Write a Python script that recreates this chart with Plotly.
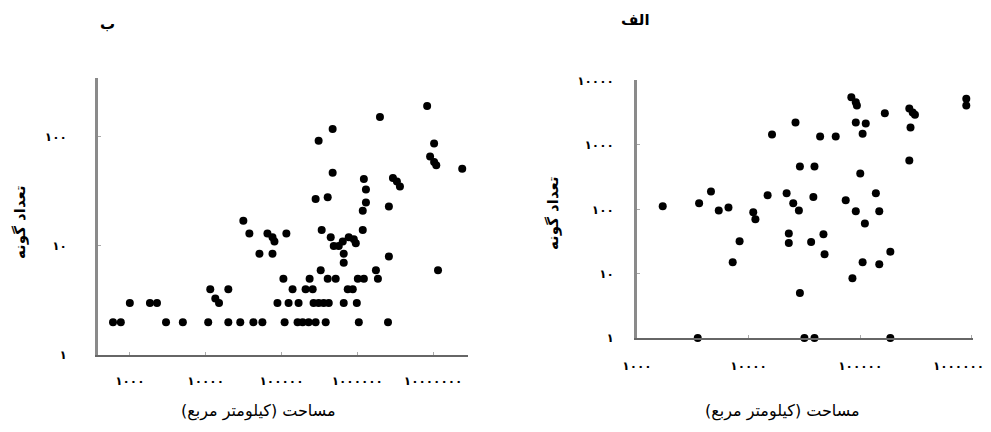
import plotly.graph_objects as go

# ---------------- data ----------------
# Panel "ب" (left)
left_area = [600, 760, 1000, 1840, 2280, 3000, 5000, 10800, 11500, 13400, 15000,
             19900, 19900, 28600, 31400, 37700, 42600, 56000, 51200, 65300, 76100,
             80800, 76100, 116000, 106000, 88500, 124000, 168000, 140000, 110000,
             163000, 190000, 228000, 282000, 383000, 208000, 258000, 235000, 265000,
             309000, 360000, 420000, 329000, 407000, 519000, 662000, 985000, 748000,
             871000, 1047000, 1016000, 1220000, 1760000, 1870000, 2540000, 2610000,
             2610000, 339000, 446000, 489000, 569000, 643000, 662000, 662000, 771000,
             899000, 955000, 1180000, 282000, 407000, 473000, 309000, 473000, 1220000,
             1300000, 1300000, 1180000, 1990000, 2950000, 3330000, 3650000, 8340000,
             10300000, 9120000, 10300000, 11000000, 24200000, 11600000]
left_species = [2, 2, 3, 3, 3, 2, 2, 2, 4, 3.3, 3,
                4, 2, 2, 17, 13, 2, 2, 8.5, 13, 12,
                11, 8.5, 13, 5, 3, 3, 3, 4, 2,
                2, 2, 2, 2, 2, 4, 4, 5, 3,
                3, 3, 3, 6, 5, 5, 3, 3, 4,
                4, 2, 5, 5, 6, 5, 2, 8,
                23, 14, 12, 10, 10, 11, 8.5, 7, 12,
                11.5, 10.6, 14, 27, 28, 47, 92, 118, 41,
                33, 25, 21, 152, 42, 39, 35, 192,
                87, 66, 59, 55, 51, 6]

# Panel "الف" (right)
right_area = [1700, 3600, 4600, 5400, 6600, 8300, 7200, 3500, 11000, 11500,
              14800, 16200, 22900, 22900, 21900, 25100, 28200, 26300, 28800, 38900,
              28800, 36300, 38000, 46800, 47900, 43700, 60300, 31600, 38900, 74100,
              85100, 83200, 91200, 93300, 91200, 112000, 105000, 100000, 91200, 110000,
              105000, 138000, 148000, 148000, 186000, 166000, 186000, 275000, 295000,
              309000, 282000, 275000, 891000, 891000]
right_species = [112, 124, 190, 96, 107, 32, 15, 1, 90, 70,
                 166, 1450, 42, 30, 178, 124, 96, 2240, 465, 465,
                 5, 31, 155, 41, 20, 1350, 1350, 1, 1, 138,
                 8.5, 5500, 4600, 4100, 2240, 2150, 1500, 360, 93, 60,
                 15, 178, 93, 14, 22, 3100, 1, 3700, 3200,
                 2950, 1870, 575, 5250, 4100]

left_xticks = [1e3, 1e4, 1e5, 1e6, 1e7]
left_xticktext = ["۱۰۰۰", "۱۰۰۰۰", "۱۰۰۰۰۰", "۱۰۰۰۰۰۰", "۱۰۰۰۰۰۰۰"]
left_yticks = [1, 10, 100]
left_yticktext = ["۱", "۱۰", "۱۰۰"]
right_xticks = [1e3, 1e4, 1e5, 1e6]
right_xticktext = ["۱۰۰۰", "۱۰۰۰۰", "۱۰۰۰۰۰", "۱۰۰۰۰۰۰"]
right_yticks = [1, 10, 100, 1000, 10000]
right_yticktext = ["۱", "۱۰", "۱۰۰", "۱۰۰۰", "۱۰۰۰۰"]

panel_left = "ب"
panel_right = "الف"
y_title = "تعداد گونه"
x_title = "مساحت (کیلومتر مربع)"

FONT = "DejaVu Sans"
W, H = 991, 432
OFF = 8  # page body margin


def px(x):
    return (x - OFF) / W


def py(y):
    return 1 - (y - OFF) / H


def bold(lst):
    return [f"<b>{t}</b>" for t in lst]


# the last right-panel label sits at the page edge: pad it so it stays visible
right_xticktext_shown = bold(right_xticktext)
right_xticktext_shown[-1] = right_xticktext_shown[-1] + "\u00a0" * 7

fig = go.Figure()
marker = dict(color="black", size=8, line=dict(width=0))
fig.add_trace(go.Scatter(x=left_area, y=left_species, mode="markers", marker=marker,
                         xaxis="x", yaxis="y", cliponaxis=False, showlegend=False))
fig.add_trace(go.Scatter(x=right_area, y=right_species, mode="markers", marker=marker,
                         xaxis="x2", yaxis="y2", cliponaxis=False, showlegend=False))

tickfont = dict(family=FONT, size=12, color="black")
xcommon = dict(type="log", showgrid=False, zeroline=False, showline=True, automargin=False,
               linecolor="#666", linewidth=1.5, ticks="inside", ticklen=3,
               tickcolor="#aaa", tickfont=tickfont, ticklabeloverflow="allow")
ycommon = dict(type="log", showgrid=False, zeroline=False, showline=True, automargin=False,
               linecolor="#8a8a8a", linewidth=2.5, ticks="inside", ticklen=3,
               tickcolor="#aaa", tickfont=tickfont, ticklabeloverflow="allow")

fig.update_layout(
    width=W, height=H,
    margin=dict(l=0, r=0, t=0, b=0, autoexpand=False),
    paper_bgcolor="white", plot_bgcolor="white",
    xaxis=dict(**xcommon, domain=[px(98), px(468)], range=[2.58, 7.46], anchor="y",
               tickvals=left_xticks, ticktext=bold(left_xticktext), ticklabelstandoff=14),
    yaxis=dict(**ycommon, domain=[py(355), py(78)], range=[0, 2.54], anchor="x",
               tickvals=left_yticks, ticktext=bold(left_yticktext), ticklabelstandoff=26),
    xaxis2=dict(**xcommon, domain=[px(637), px(973)], range=[3, 6.01], anchor="y2",
                tickvals=right_xticks, ticktext=right_xticktext_shown, ticklabelstandoff=16),
    yaxis2=dict(**ycommon, domain=[py(338), py(80)], range=[0, 4.01], anchor="x2",
                tickvals=right_yticks, ticktext=bold(right_yticktext), ticklabelstandoff=18),
)

ann_font = dict(family=FONT, size=15, color="black")
anns = [
    dict(x=px(107), y=py(24), text=f"<b>{panel_left}</b>"),
    dict(x=px(635), y=py(20), text=f"<b>{panel_right}</b>"),
    dict(x=px(20), y=py(222), text=f"<b>{y_title}</b>", textangle=-90),
    dict(x=px(553), y=py(213), text=f"<b>{y_title}</b>", textangle=-90),
    dict(x=px(258), y=py(411), text=x_title, font=dict(family=FONT, size=16, color="black")),
    dict(x=px(782), y=py(411), text=x_title, font=dict(family=FONT, size=16, color="black")),
]
for a in anns:
    a.setdefault("font", ann_font)
    fig.add_annotation(xref="paper", yref="paper", showarrow=False,
                       xanchor="center", yanchor="middle", **a)

fig.write_html("out.html")
